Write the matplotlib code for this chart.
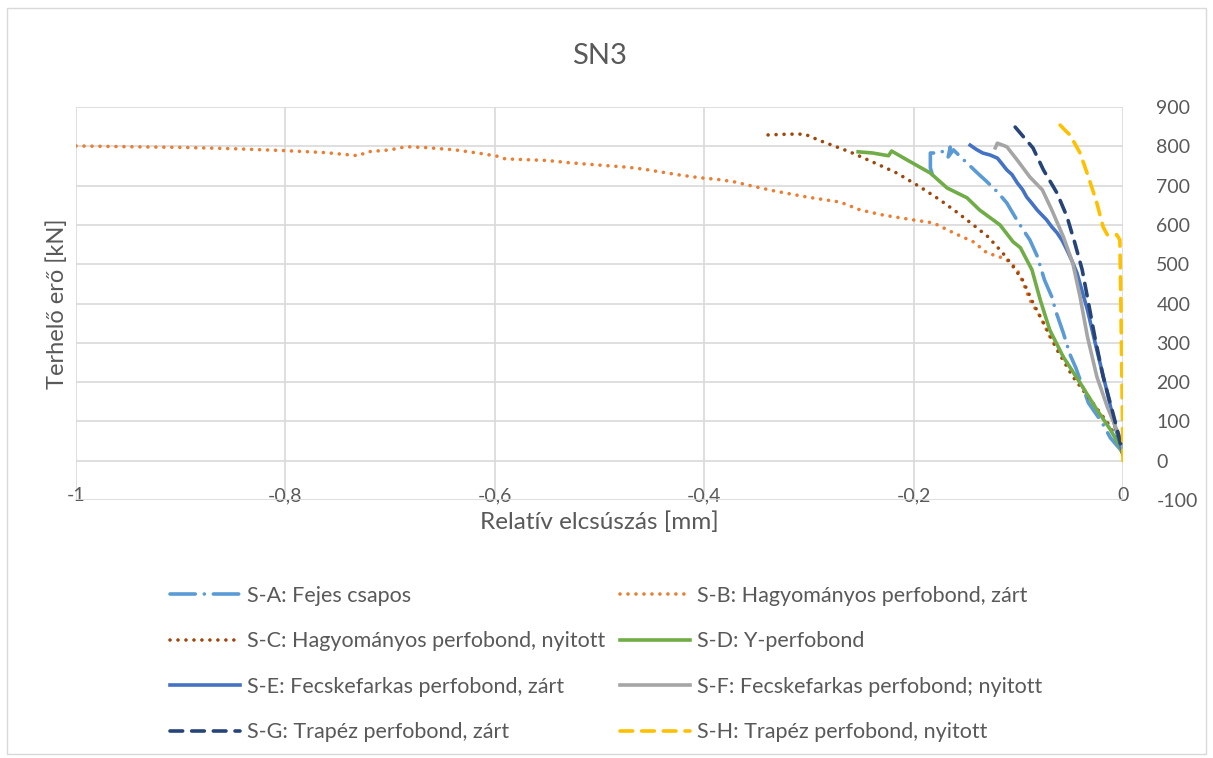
import matplotlib.pyplot as plt
from matplotlib.patches import Rectangle

# betűtípus és színek (Excel-szerű megjelenés)
plt.rcParams['font.family'] = ['Lato', 'DejaVu Sans']
plt.rcParams['axes.unicode_minus'] = False
szoveg_szin = '#595959'
racs_szin = '#d9d9d9'

# adatok: relatív elcsúszás [mm] és terhelő erő [kN]
sa_x = [0.0, -0.003, -0.012, -0.02, -0.033, -0.045, -0.0506, -0.057, -0.064, -0.068, -0.075, -0.082,
        -0.089, -0.096, -0.103, -0.111, -0.120, -0.130, -0.139, -0.150, -0.162, -0.167, -0.165,
        -0.175, -0.184, -0.184, -0.182]
sa_y = [20, 30, 58, 97, 147, 236, 270, 325, 379, 417, 460, 521,
        562, 590, 620, 656, 684, 710, 732, 760, 791, 773, 798,
        783, 783, 745, 727]

sb_x = [-1.0, -0.95, -0.894, -0.85, -0.80, -0.762, -0.730, -0.722, -0.700, -0.685, -0.667, -0.638,
        -0.614, -0.598, -0.590, -0.550, -0.528, -0.504, -0.474, -0.458, -0.442, -0.426, -0.404,
        -0.388, -0.372, -0.356, -0.334, -0.302, -0.270, -0.251, -0.229, -0.201, -0.181, -0.162,
        -0.143, -0.130, -0.115, -0.108, -0.101, -0.0955, -0.089, -0.079, -0.070, -0.057, -0.041,
        -0.029, -0.015, -0.003, 0.0]
sb_y = [801, 799, 797, 794, 789, 784, 776, 786, 791, 799, 797, 791,
        782, 775, 768, 764, 758, 753, 747, 742, 735, 728, 720,
        716, 710, 700, 687, 671, 658, 638, 625, 613, 605, 580,
        557, 529, 516, 506, 486, 453, 409, 366, 316, 264, 198,
        147, 97, 36, 15]

sc_x = [-0.339, -0.32, -0.304, -0.289, -0.261, -0.239, -0.216, -0.194, -0.175, -0.159, -0.143,
        -0.129, -0.115, -0.106, -0.096, -0.086, -0.076, -0.063, -0.048, -0.029, -0.015, -0.003, 0.0]
sc_y = [829, 831, 831, 814, 786, 760, 732, 697, 664, 633, 600,
        570, 529, 498, 460, 402, 351, 282, 214, 147, 97, 46, 20]

sd_x = [-0.253, -0.239, -0.224, -0.221, -0.206, -0.184, -0.168, -0.149, -0.137, -0.1175, -0.105,
        -0.098, -0.087, -0.079, -0.070, -0.057, -0.041, -0.025, -0.012, -0.003, 0.0]
sd_y = [786, 783, 776, 788, 765, 732, 694, 669, 638, 600, 557,
        542, 486, 409, 333, 264, 198, 130, 79, 36, 15]

se_x = [-0.146, -0.140, -0.134, -0.127, -0.120, -0.116, -0.111, -0.106, -0.101, -0.096, -0.092,
        -0.087, -0.082, -0.077, -0.073, -0.068, -0.063, -0.058, -0.0535, -0.049, -0.044, -0.034,
        -0.025, -0.015, -0.0076, -0.001]
se_y = [803, 792, 783, 778, 770, 757, 740, 728, 707, 690, 671,
        655, 638, 624, 613, 595, 580, 560, 536, 510, 478, 384,
        282, 173, 87, 28]

sf_x = [-0.122, -0.120, -0.111, -0.101, -0.089, -0.077, -0.068, -0.057, -0.048, -0.041, -0.034,
        -0.025, -0.015, -0.006, -0.001, 0.0]
sf_y = [796, 808, 799, 765, 722, 689, 638, 570, 503, 417, 316,
        214, 137, 79, 46, 30]

sg_x = [-0.103, -0.086, -0.076, -0.063, -0.0535, -0.046, -0.039, -0.033, -0.027, -0.019, -0.0105,
        -0.0048, -0.001, 0.0]
sg_y = [849, 796, 740, 681, 621, 554, 486, 402, 316, 214, 130,
        71, 28, 15]

sh_x = [-0.060, -0.055, -0.0506, -0.041, -0.033, -0.025, -0.019, -0.015, -0.006, -0.003, -0.002,
        -0.001, 0.0]
sh_y = [854, 840, 829, 783, 722, 656, 595, 575, 575, 562, 400,
        200, 0]

cimkek = ['S-A: Fejes csapos',
          'S-B: Hagyományos perfobond, zárt',
          'S-C: Hagyományos perfobond, nyitott',
          'S-D: Y-perfobond',
          'S-E: Fecskefarkas perfobond, zárt',
          'S-F: Fecskefarkas perfobond; nyitott',
          'S-G: Trapéz perfobond, zárt',
          'S-H: Trapéz perfobond, nyitott']

x_tickek = [-1.0, -0.8, -0.6, -0.4, -0.2, 0.0]
x_tick_cimkek = ['-1', '-0,8', '-0,6', '-0,4', '-0,2', '0']
y_tickek = [-100, 0, 100, 200, 300, 400, 500, 600, 700, 800, 900]

fig = plt.figure(figsize=(12.13, 7.58), dpi=100)
ax = fig.add_axes([0.0627, 0.3404, 0.8631, 0.5184])

vonal = 2.6
vonalak = []
vonalak += ax.plot(sa_x, sa_y, color='#5B9BD5', lw=vonal, dashes=(7, 2.5, 0.01, 2.5), dash_capstyle='round', label=cimkek[0])
vonalak += ax.plot(sb_x, sb_y, color='#ED7D31', lw=vonal, dashes=(0.01, 2.2), dash_capstyle='round', label=cimkek[1])
vonalak += ax.plot(sc_x, sc_y, color='#9E480E', lw=vonal, dashes=(0.01, 2.2), dash_capstyle='round', label=cimkek[2])
vonalak += ax.plot(sd_x, sd_y, color='#70AD47', lw=vonal, label=cimkek[3])
vonalak += ax.plot(se_x, se_y, color='#4472C4', lw=vonal, label=cimkek[4])
vonalak += ax.plot(sf_x, sf_y, color='#A5A5A5', lw=vonal, label=cimkek[5])
vonalak += ax.plot(sg_x, sg_y, color='#264478', lw=vonal, dashes=(3.5, 2.5), dash_capstyle='round', label=cimkek[6])
vonalak += ax.plot(sh_x, sh_y, color='#FFC000', lw=vonal, dashes=(3.5, 2.5), dash_capstyle='round', label=cimkek[7])

ax.set_xlim(-1, 0)
ax.set_ylim(-100, 900)
ax.set_xticks(x_tickek)
ax.set_xticklabels(x_tick_cimkek)
ax.set_yticks(y_tickek)
ax.grid(True, color=racs_szin, lw=1.2)
ax.set_axisbelow(True)
for s in ax.spines.values():
    s.set_visible(False)

ax.yaxis.tick_right()
ax.tick_params(axis='y', length=0, pad=24, labelsize=14, labelcolor=szoveg_szin)
for t in ax.get_yticklabels():
    t.set_horizontalalignment('left')
ax.tick_params(axis='x', length=0, pad=-9, labelsize=14, labelcolor=szoveg_szin)

ax.set_title('SN3', fontsize=21, color=szoveg_szin, pad=31)
ax.set_xlabel('Relatív elcsúszás [mm]', fontsize=17.5, color=szoveg_szin, labelpad=5)
ax.set_ylabel('Terhelő erő [kN]', fontsize=17, color=szoveg_szin, labelpad=6)

# jelmagyarázat két oszlopban, soronként A-B, C-D, ...
jm_beall = dict(loc='center left', frameon=False, fontsize=15.5, labelcolor=szoveg_szin,
                handlelength=3.25, handletextpad=0.32, labelspacing=1.18,
                borderpad=0, borderaxespad=0)
bal = fig.legend(vonalak[0::2], cimkek[0::2], bbox_to_anchor=(0.1401, 0.124), **jm_beall)
jobb = fig.legend(vonalak[1::2], cimkek[1::2], bbox_to_anchor=(0.5111, 0.124), **jm_beall)

# diagram kerete
fig.patches.append(Rectangle((0.006, 0.005), 0.988, 0.985, transform=fig.transFigure,
                             fill=False, edgecolor=racs_szin, lw=1))

fig.savefig('out.png', dpi=100)
